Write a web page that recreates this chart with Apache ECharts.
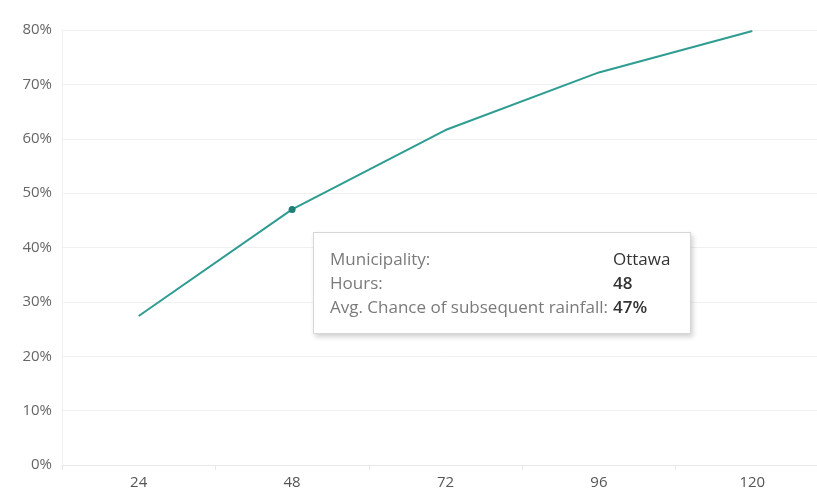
<!DOCTYPE html>
<html>
<head>
<meta charset="utf-8">
<script src="https://cdn.jsdelivr.net/npm/echarts@6/dist/echarts.min.js"></script>
<style>
    html, body { margin: 0; padding: 0; background: #fff; overflow: hidden; }
    /* plot runs past the right edge of the window, like the cropped original */
    #chart { width: 829px; height: 493px; }
</style>
</head>
<body>
<div id="chart"></div>
<script>
// Avg. chance of subsequent rainfall by hours, Ottawa
const hours = ["24", "48", "72", "96", "120"];
const chance = [0.274, 0.47, 0.616, 0.722, 0.798];
const yTicks = [0, 0.1, 0.2, 0.3, 0.4, 0.5, 0.6, 0.7, 0.8];

const municipality = "Ottawa";
const focusIndex = 1;

const lineColor = "#2f9c92";
const fontFamily = "'Open Sans', 'Noto Sans', sans-serif";

const chart = echarts.init(document.getElementById("chart"), null, {
    renderer: "canvas",
});

const seriesData = chance.map((v, i) =>
    i === focusIndex
        ? { value: v, symbol: "circle", symbolSize: 7 }
        : { value: v, symbol: "none" }
);

chart.setOption({
    animation: false,
    backgroundColor: "#fff",
    grid: { left: 62, right: 0, top: 30, bottom: 28 },
    tooltip: {
        trigger: "item",
        alwaysShowContent: true,
        showDelay: 0,
        transitionDuration: 0,
        position: [313, 232],
        backgroundColor: "#fff",
        borderColor: "#d6d6d6",
        borderWidth: 1,
        padding: [14, 20, 14, 16],
        extraCssText:
            "border-radius:0;box-shadow:2px 3px 5px rgba(0,0,0,0.18);",
        textStyle: { fontFamily, fontSize: 17, color: "#333" },
        formatter: (p) => {
            const pct = Math.round(p.value * 100) + "%";
            const row = (label, val, bold) =>
                `<tr><td style="color:#7a7a7a;padding:0 5px 0 0;line-height:24px">${label}</td>` +
                `<td style="color:#333;font-weight:${bold ? 600 : 400};padding:0;line-height:24px">${val}</td></tr>`;
            return (
                `<table style="border-collapse:collapse;font-family:${fontFamily};font-size:17px">` +
                row("Municipality:", municipality, false) +
                row("Hours:", hours[p.dataIndex], true) +
                row("Avg. Chance of subsequent rainfall:", pct, true) +
                "</table>"
            );
        },
    },
    xAxis: {
        type: "category",
        data: hours,
        boundaryGap: true,
        axisLine: { show: true, lineStyle: { color: "#e8e8e8", width: 1 } },
        axisTick: { show: true, length: 5, lineStyle: { color: "#e8e8e8" } },
        axisLabel: { color: "#555", fontSize: 15, margin: 10, fontFamily },
        splitLine: { show: false },
    },
    yAxis: {
        type: "value",
        min: yTicks[0],
        max: yTicks[yTicks.length - 1],
        interval: 0.1,
        axisLine: { show: true, lineStyle: { color: "#f0f0f0", width: 1 } },
        axisTick: { show: false },
        axisLabel: {
            color: "#666",
            fontSize: 15,
            margin: 10,
            fontFamily,
            formatter: (v) => Math.round(v * 100) + "%",
        },
        splitLine: { show: true, lineStyle: { color: "#f0f0f0", width: 1 } },
    },
    series: [
        {
            type: "line",
            data: seriesData,
            showSymbol: true,
            lineStyle: { color: lineColor, width: 2 },
            itemStyle: { color: "#1f7f74" },
            emphasis: { disabled: true },
        },
    ],
});

chart.dispatchAction({ type: "showTip", seriesIndex: 0, dataIndex: focusIndex });
</script>
</body>
</html>
